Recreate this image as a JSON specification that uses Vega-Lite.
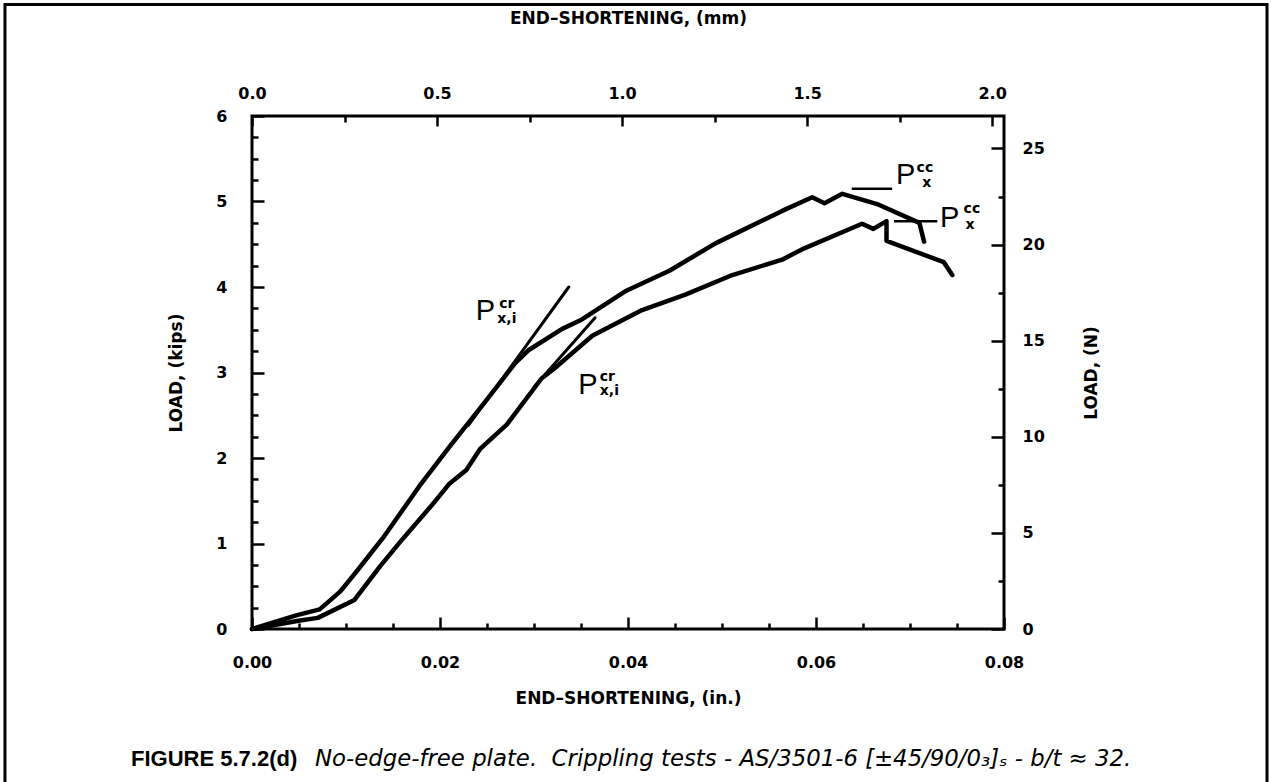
{
  "$schema": "https://vega.github.io/schema/vega-lite/v6.json",
  "width": 752,
  "height": 513,
  "autosize": {"type": "none"},
  "padding": {"left": 252, "top": 116, "right": 267, "bottom": 153},
  "background": "white",
  "config": {
    "view": {"stroke": "black", "strokeWidth": 3},
    "axis": {
      "domain": false, "grid": false, "tickColor": "black", "tickWidth": 2.5,
      "labelColor": "black", "titleColor": "black",
      "labelFont": "DejaVu Sans", "labelFontWeight": "bold", "labelFontSize": 16,
      "titleFont": "DejaVu Sans", "titleFontWeight": "bold", "titleFontSize": 17,
      "labelFlush": false, "labelOverlap": false
    }
  },
  "datasets": {
    "curves": [
      {"test": "A", "i": 0, "x": 0, "y": 0},
      {"test": "A", "i": 1, "x": 0.0047, "y": 0.16},
      {"test": "A", "i": 2, "x": 0.0072, "y": 0.23},
      {"test": "A", "i": 3, "x": 0.0094, "y": 0.44},
      {"test": "A", "i": 4, "x": 0.0111, "y": 0.67},
      {"test": "A", "i": 5, "x": 0.0141, "y": 1.09},
      {"test": "A", "i": 6, "x": 0.0178, "y": 1.67},
      {"test": "A", "i": 7, "x": 0.0210, "y": 2.13},
      {"test": "A", "i": 8, "x": 0.0249, "y": 2.67},
      {"test": "A", "i": 9, "x": 0.0280, "y": 3.11},
      {"test": "A", "i": 10, "x": 0.0294, "y": 3.26},
      {"test": "A", "i": 11, "x": 0.0330, "y": 3.51},
      {"test": "A", "i": 12, "x": 0.0351, "y": 3.62},
      {"test": "A", "i": 13, "x": 0.0397, "y": 3.95},
      {"test": "A", "i": 14, "x": 0.0444, "y": 4.19},
      {"test": "A", "i": 15, "x": 0.0493, "y": 4.51},
      {"test": "A", "i": 16, "x": 0.0564, "y": 4.89},
      {"test": "A", "i": 17, "x": 0.0596, "y": 5.05},
      {"test": "A", "i": 18, "x": 0.0609, "y": 4.98},
      {"test": "A", "i": 19, "x": 0.0628, "y": 5.09},
      {"test": "A", "i": 20, "x": 0.0665, "y": 4.97},
      {"test": "A", "i": 21, "x": 0.0710, "y": 4.75},
      {"test": "A", "i": 22, "x": 0.0715, "y": 4.53},
      {"test": "B", "i": 0, "x": 0, "y": 0},
      {"test": "B", "i": 1, "x": 0.0051, "y": 0.10},
      {"test": "B", "i": 2, "x": 0.0070, "y": 0.13},
      {"test": "B", "i": 3, "x": 0.0109, "y": 0.34},
      {"test": "B", "i": 4, "x": 0.0136, "y": 0.73},
      {"test": "B", "i": 5, "x": 0.0157, "y": 1.01},
      {"test": "B", "i": 6, "x": 0.0193, "y": 1.47},
      {"test": "B", "i": 7, "x": 0.0210, "y": 1.70},
      {"test": "B", "i": 8, "x": 0.0228, "y": 1.86},
      {"test": "B", "i": 9, "x": 0.0243, "y": 2.11},
      {"test": "B", "i": 10, "x": 0.0271, "y": 2.39},
      {"test": "B", "i": 11, "x": 0.0308, "y": 2.93},
      {"test": "B", "i": 12, "x": 0.0322, "y": 3.05},
      {"test": "B", "i": 13, "x": 0.0362, "y": 3.43},
      {"test": "B", "i": 14, "x": 0.0415, "y": 3.73},
      {"test": "B", "i": 15, "x": 0.0461, "y": 3.91},
      {"test": "B", "i": 16, "x": 0.0511, "y": 4.14},
      {"test": "B", "i": 17, "x": 0.0564, "y": 4.32},
      {"test": "B", "i": 18, "x": 0.0585, "y": 4.44},
      {"test": "B", "i": 19, "x": 0.0649, "y": 4.74},
      {"test": "B", "i": 20, "x": 0.0661, "y": 4.68},
      {"test": "B", "i": 21, "x": 0.0675, "y": 4.77},
      {"test": "B", "i": 22, "x": 0.0675, "y": 4.54},
      {"test": "B", "i": 23, "x": 0.0736, "y": 4.29},
      {"test": "B", "i": 24, "x": 0.0745, "y": 4.14}
    ],
    "tangents": [
      {"line": "TA", "x": 0.0230, "y": 2.38},
      {"line": "TA", "x": 0.0337, "y": 4.00},
      {"line": "TB", "x": 0.0300, "y": 2.83},
      {"line": "TB", "x": 0.0365, "y": 3.64}
    ],
    "markers": [
      {"line": "MA", "x": 0.0638, "y": 5.15},
      {"line": "MA", "x": 0.0681, "y": 5.15},
      {"line": "MB", "x": 0.0683, "y": 4.77},
      {"line": "MB", "x": 0.0729, "y": 4.77}
    ],
    "bigP": [
      {"txt": "P", "x": 0.0238, "y": 3.61},
      {"txt": "P", "x": 0.0347, "y": 2.75},
      {"txt": "P", "x": 0.0685, "y": 5.20},
      {"txt": "P", "x": 0.0732, "y": 4.70}
    ],
    "scripts": [
      {"txt": "cr", "x": 0.0263, "y": 3.76},
      {"txt": "x,i", "x": 0.0261, "y": 3.58},
      {"txt": "cr", "x": 0.0370, "y": 2.90},
      {"txt": "x,i", "x": 0.0370, "y": 2.74},
      {"txt": "cc", "x": 0.0707, "y": 5.35},
      {"txt": "x", "x": 0.0713, "y": 5.17},
      {"txt": "cc", "x": 0.0757, "y": 4.86},
      {"txt": "x", "x": 0.0759, "y": 4.68}
    ]
  },
  "layer": [
    {
      "data": {"name": "curves"},
      "mark": {"type": "line", "stroke": "black", "strokeWidth": 4.5, "strokeJoin": "round", "strokeCap": "round"},
      "encoding": {
        "x": {"field": "x", "type": "quantitative", "scale": {"domain": [0, 0.08], "nice": false, "zero": false},
          "axis": {"orient": "bottom", "values": [0, 0.02, 0.04, 0.06, 0.08], "format": ".2f", "tickSize": -12, "labelPadding": 37, "title": "END–SHORTENING, (in.)", "titlePadding": 20}},
        "y": {"field": "y", "type": "quantitative", "scale": {"domain": [0, 6], "nice": false, "zero": false},
          "axis": {"orient": "left", "values": [0, 1, 2, 3, 4, 5, 6], "format": "d", "tickSize": -12, "labelPadding": 37, "title": "LOAD, (kips)", "titlePadding": 30}},
        "detail": {"field": "test"},
        "order": {"field": "i"}
      }
    },
    {
      "data": {"name": "tangents"},
      "mark": {"type": "line", "stroke": "black", "strokeWidth": 3, "strokeCap": "round"},
      "encoding": {
        "x": {"field": "x", "type": "quantitative",
          "axis": {"orient": "top", "values": [0, 0.019685, 0.03937, 0.059055, 0.07874], "labelExpr": "format(datum.value*25.4, '.1f')", "tickSize": -10, "labelPadding": 25, "title": "END–SHORTENING, (mm)", "titlePadding": 58}},
        "y": {"field": "y", "type": "quantitative",
          "axis": {"orient": "right", "values": [0, 1.12405, 2.2481, 3.37216, 4.49622, 5.62027], "labelExpr": "format(datum.value*4.448222, '.0f')", "tickSize": -13, "labelPadding": 31, "title": "LOAD, (N)", "titleAngle": 270, "titlePadding": 56}},
        "detail": {"field": "line"}
      }
    },
    {
      "data": {"name": "markers"},
      "mark": {"type": "line", "stroke": "black", "strokeWidth": 2.5},
      "encoding": {
        "x": {"field": "x", "type": "quantitative",
          "axis": {"orient": "bottom", "values": [0.005, 0.01, 0.015, 0.025, 0.03, 0.035, 0.045, 0.05, 0.055, 0.065, 0.07, 0.075], "labels": false, "tickSize": -6, "title": null}},
        "y": {"field": "y", "type": "quantitative",
          "axis": {"orient": "left", "values": [0.25, 0.5, 0.75, 1.25, 1.5, 1.75, 2.25, 2.5, 2.75, 3.25, 3.5, 3.75, 4.25, 4.5, 4.75, 5.25, 5.5, 5.75], "labels": false, "tickSize": -6, "title": null}},
        "detail": {"field": "line"}
      }
    },
    {
      "data": {"name": "bigP"},
      "mark": {"type": "text", "font": "Liberation Sans", "fontSize": 29, "align": "left", "baseline": "alphabetic", "color": "black"},
      "encoding": {
        "x": {"field": "x", "type": "quantitative",
          "axis": {"orient": "top", "values": [0.009843, 0.029528, 0.049213, 0.068898], "labels": false, "tickSize": -6, "title": null}},
        "y": {"field": "y", "type": "quantitative",
          "axis": {"orient": "right", "values": [0.56202, 1.68607, 2.81013, 3.93419, 5.05824], "labels": false, "tickSize": -6, "title": null}},
        "text": {"field": "txt"}
      }
    },
    {
      "data": {"name": "scripts"},
      "mark": {"type": "text", "font": "DejaVu Sans", "fontWeight": "bold", "fontSize": 14, "align": "left", "baseline": "alphabetic", "color": "black"},
      "encoding": {
        "x": {"field": "x", "type": "quantitative", "axis": null},
        "y": {"field": "y", "type": "quantitative", "axis": null},
        "text": {"field": "txt"}
      }
    },
    {
      "data": {"values": [{}]},
      "mark": {"type": "text", "font": "Liberation Sans", "fontWeight": "bold", "fontSize": 22, "align": "left", "baseline": "middle", "color": "black"},
      "encoding": {
        "x": {"datum": -0.012872, "type": "quantitative", "axis": null},
        "y": {"datum": -1.5205, "type": "quantitative", "axis": null},
        "text": {"value": "FIGURE 5.7.2(d)"}
      }
    },
    {
      "data": {"values": [{}]},
      "mark": {"type": "text", "font": "DejaVu Sans", "fontStyle": "italic", "fontSize": 22.8, "align": "left", "baseline": "middle", "color": "black"},
      "encoding": {
        "x": {"datum": 0.006702, "type": "quantitative", "axis": null},
        "y": {"datum": -1.5205, "type": "quantitative", "axis": null},
        "text": {"value": "No-edge-free plate.\u00a0 Crippling tests - AS/3501-6 [±45/90/0₃]ₛ - b/t ≈ 32."}
      }
    },
    {
      "data": {"values": [{}]},
      "mark": {"type": "rect", "fill": null, "fillOpacity": 0, "stroke": "black", "strokeWidth": 3},
      "encoding": {
        "x": {"datum": -0.02628, "type": "quantitative", "axis": null},
        "x2": {"datum": 0.10798},
        "y": {"datum": -1.883, "type": "quantitative", "axis": null},
        "y2": {"datum": 7.304}
      }
    }
  ],
  "resolve": {"axis": {"x": "independent", "y": "independent"}}
}
